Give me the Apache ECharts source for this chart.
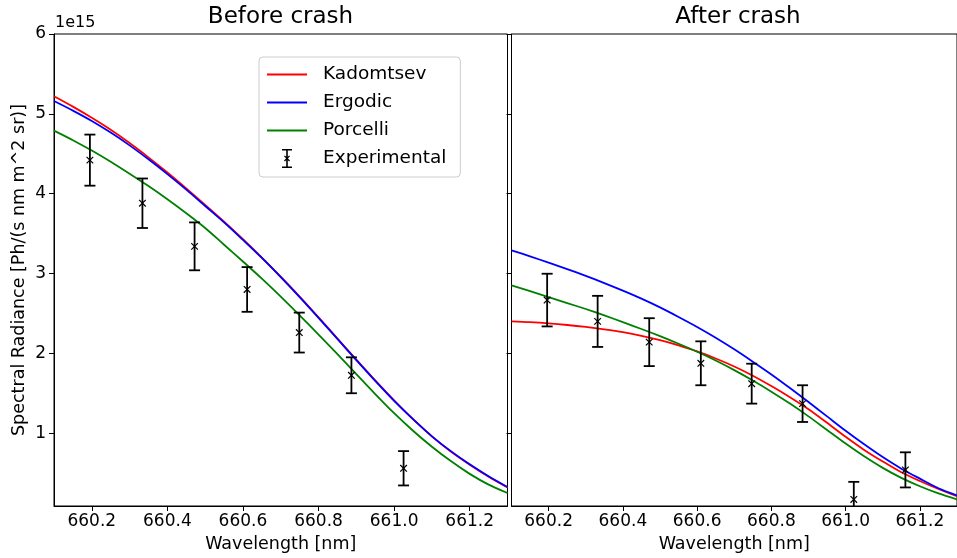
<!DOCTYPE html>
<html><head><meta charset="utf-8">
<script src="https://cdn.jsdelivr.net/npm/echarts@6/dist/echarts.min.js"></script>
<style>html,body{margin:0;padding:0;background:#fff}#c{width:957px;height:558px}</style>
</head><body><div id="c"></div>
<script>
// ---- data (values in units of 1e15 Ph/(s nm m^2 sr)) ----
const wavelengths = [660.10,660.15,660.20,660.25,660.30,660.35,660.40,660.45,660.50,660.55,660.60,660.65,660.70,660.75,660.80,660.85,660.90,660.95,661.00,661.05,661.10,661.15,661.20,661.25,661.30];
const beforeKadomtsev = [5.22,5.09,4.95,4.80,4.635,4.455,4.265,4.065,3.86,3.65,3.43,3.20,2.96,2.71,2.45,2.185,1.92,1.66,1.41,1.175,0.96,0.77,0.605,0.455,0.32];
const beforeErgodic   = [5.16,5.04,4.91,4.765,4.605,4.43,4.245,4.05,3.845,3.64,3.42,3.195,2.955,2.705,2.445,2.18,1.915,1.655,1.405,1.175,0.96,0.775,0.61,0.46,0.325];
const beforePorcelli  = [4.79,4.67,4.54,4.40,4.25,4.095,3.93,3.755,3.57,3.36,3.15,2.935,2.71,2.475,2.235,1.99,1.74,1.49,1.25,1.03,0.83,0.65,0.49,0.355,0.25];
const afterKadomtsev  = [2.40,2.39,2.375,2.355,2.33,2.30,2.265,2.22,2.165,2.10,2.025,1.935,1.835,1.72,1.59,1.45,1.30,1.13,0.955,0.79,0.645,0.51,0.40,0.30,0.21];
const afterErgodic    = [3.29,3.215,3.135,3.055,2.97,2.88,2.785,2.685,2.575,2.455,2.33,2.195,2.05,1.895,1.735,1.565,1.39,1.21,1.03,0.86,0.70,0.555,0.43,0.31,0.22];
const afterPorcelli   = [2.85,2.78,2.705,2.63,2.555,2.475,2.39,2.305,2.215,2.12,2.02,1.91,1.79,1.66,1.52,1.37,1.21,1.04,0.87,0.71,0.565,0.44,0.335,0.245,0.17];

const expWavelengthsBefore = [660.195,660.334,660.472,660.611,660.749,660.887,661.025];
const expBefore = [4.42,3.88,3.34,2.80,2.26,1.725,0.56];
const errBefore = [0.32,0.31,0.30,0.28,0.25,0.225,0.215];
const expWavelengthsAfter = [660.196,660.332,660.471,660.610,660.747,660.884,661.022,661.161];
const expAfter = [2.667,2.40,2.14,1.875,1.62,1.37,0.17,0.54];
const errAfter = [0.33,0.32,0.30,0.275,0.25,0.23,0.22,0.22];

const xTicks = [660.2,660.4,660.6,660.8,661.0,661.2];
const yTicks = [1,2,3,4,5,6];
const panelTitles = ['Before crash','After crash'];
const seriesNames = ['Kadomtsev','Ergodic','Porcelli','Experimental'];

// ---- chart ----
const FONT = 'DejaVu Sans';
const colors = ['#ff0000','#0000ff','#008000'];
const pairs = (xs, ys) => xs.map((x,i)=>[x, ys[i]]);
const triples = (xs, ys, es) => xs.map((x,i)=>[x, ys[i], es[i]]);

function errRender(params, api){
  const x = api.value(0), y = api.value(1), e = api.value(2);
  const c = api.coord([x,y]);
  const t = api.coord([x,y+e]);
  const b = api.coord([x,y-e]);
  const cw = 5.5, m = 3.3;
  const st = {stroke:'#000', lineWidth:1.8, fill:null};
  const sm = {stroke:'#000', lineWidth:1.2, fill:null};
  return {type:'group', children:[
    {type:'line', shape:{x1:t[0],y1:t[1],x2:b[0],y2:b[1]}, style:st},
    {type:'line', shape:{x1:t[0]-cw,y1:t[1],x2:t[0]+cw,y2:t[1]}, style:st},
    {type:'line', shape:{x1:b[0]-cw,y1:b[1],x2:b[0]+cw,y2:b[1]}, style:st},
    {type:'line', shape:{x1:c[0]-m,y1:c[1]-m,x2:c[0]+m,y2:c[1]+m}, style:sm},
    {type:'line', shape:{x1:c[0]-m,y1:c[1]+m,x2:c[0]+m,y2:c[1]-m}, style:sm}
  ]};
}

function xAxisCfg(gi){
  return {type:'value', gridIndex:gi, min:660.1, max:661.3,
    axisLine:{show:true, onZero:false, lineStyle:{color:'#000', width:1}},
    axisTick:{show:true, length:5, customValues:xTicks, lineStyle:{color:'#000', width:1}},
    axisLabel:{customValues:xTicks, formatter:v=>v.toFixed(1), color:'#000', fontSize:17, fontFamily:FONT, margin:7},
    splitLine:{show:false},
    name:'Wavelength [nm]', nameLocation:'middle', nameGap:29,
    nameTextStyle:{color:'#000', fontSize:17.5, fontFamily:FONT}};
}
function yAxisCfg(gi, labels){
  const a = {type:'value', gridIndex:gi, min:0.0875, max:6,
    axisLine:{show:true, onZero:false, lineStyle:{color:'#000', width:1}},
    axisTick:{show:true, length:5, customValues:yTicks, lineStyle:{color:'#000', width:1}},
    axisLabel:{show:labels, customValues:yTicks, formatter:v=>String(Math.round(v)), color:'#000', fontSize:17, fontFamily:FONT, margin:8},
    splitLine:{show:false}};
  if (labels){
    a.name = 'Spectral Radiance [Ph/(s nm m^2 sr)]';
    a.nameLocation = 'middle'; a.nameGap = 26;
    a.nameTextStyle = {color:'#000', fontSize:17.5, fontFamily:FONT};
  }
  return a;
}
function lineSeries(name, gi, ys, color){
  return {type:'line', name, xAxisIndex:gi, yAxisIndex:gi, data:pairs(wavelengths, ys),
    showSymbol:false, symbol:'none', smooth:0.3, clip:true,
    lineStyle:{color, width:1.8}, itemStyle:{color}, emphasis:{disabled:true}, z:3};
}
function errSeries(gi, xs, ys, es){
  return {type:'custom', name:'Experimental', xAxisIndex:gi, yAxisIndex:gi,
    data:triples(xs, ys, es), renderItem:errRender, clip:true, itemStyle:{color:'#000'}, z:4};
}

const linePath = 'path://M0,0 H40 V1.8 H0 Z';
const errPath = 'path://M0,0 H10 V1.6 H0 Z M4.2,0 H5.8 V19 H4.2 Z M0,17.4 H10 V19 H0 Z M2,7.3 L2.9,6.4 L8,11.6 L7.1,12.5 Z M7.1,6.4 L8,7.3 L2.9,12.5 L2,11.6 Z';

const option = {
  animation:false,
  backgroundColor:'#fff',
  grid:[
    {left:54, top:34, width:453.5, height:473, show:true, borderColor:'#000', borderWidth:1, containLabel:false},
    {left:511.5, top:34, width:453, height:473, show:true, borderColor:'#000', borderWidth:1, containLabel:false}
  ],
  xAxis:[xAxisCfg(0), xAxisCfg(1)],
  yAxis:[yAxisCfg(0,true), yAxisCfg(1,false)],
  legend:{
    orient:'vertical', left:259, top:57,
    data:[
      {name:seriesNames[0], icon:linePath, itemStyle:{color:colors[0]}},
      {name:seriesNames[1], icon:linePath, itemStyle:{color:colors[1]}},
      {name:seriesNames[2], icon:linePath, itemStyle:{color:colors[2]}},
      {name:seriesNames[3], icon:errPath, itemStyle:{color:'#000'}}
    ],
    itemWidth:40, itemHeight:19, itemGap:9, symbolKeepAspect:true,
    padding:[8,14,9,8],
    backgroundColor:'rgba(255,255,255,0.8)', borderColor:'#cccccc', borderWidth:1, borderRadius:4,
    textStyle:{color:'#000', fontSize:18.5, fontFamily:FONT, padding:[0,0,0,11]},
    selectedMode:false
  },
  graphic:[
    {type:'text', x:280.5, y:6, style:{text:panelTitles[0], fill:'#000', font:'23px "DejaVu Sans"', textAlign:'center'}},
    {type:'text', x:738, y:6, style:{text:panelTitles[1], fill:'#000', font:'23px "DejaVu Sans"', textAlign:'center'}},
    {type:'text', x:55, y:15, style:{text:'1e15', fill:'#000', font:'16px "DejaVu Sans"', textAlign:'left'}}
  ],
  series:[
    lineSeries(seriesNames[0],0,beforeKadomtsev,colors[0]),
    lineSeries(seriesNames[1],0,beforeErgodic,colors[1]),
    lineSeries(seriesNames[2],0,beforePorcelli,colors[2]),
    errSeries(0, expWavelengthsBefore, expBefore, errBefore),
    lineSeries(seriesNames[0],1,afterKadomtsev,colors[0]),
    lineSeries(seriesNames[1],1,afterErgodic,colors[1]),
    lineSeries(seriesNames[2],1,afterPorcelli,colors[2]),
    errSeries(1, expWavelengthsAfter, expAfter, errAfter)
  ]
};
const chart = echarts.init(document.getElementById('c'), null, {renderer:'canvas'});
chart.setOption(option);
</script>
</body></html>
